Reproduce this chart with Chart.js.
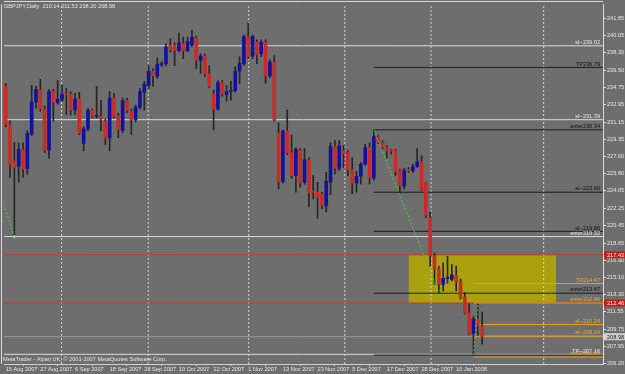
<!DOCTYPE html>
<html>
<head>
<meta charset="utf-8">
<script src="https://cdn.jsdelivr.net/npm/chart.js@4.4.1/dist/chart.umd.min.js"></script>
<style>
  html, body { margin: 0; padding: 0; background: #6e6e6e; }
  #wrap { width: 625px; height: 374px; position: relative; }
</style>
</head>
<body>
<div id="wrap"><canvas id="chart"></canvas></div>
<script>
// GBPJPY daily, 15 Aug 2007 .. 18 Jan 2008 (bar index 0..110)
const dateLabels = ["15 Aug 2007", "27 Aug 2007", "6 Sep 2007", "18 Sep 2007", "28 Sep 2007", "10 Oct 2007",
  "22 Oct 2007", "1 Nov 2007", "13 Nov 2007", "23 Nov 2007", "5 Dec 2007", "17 Dec 2007", "28 Dec 2007", "10 Jan 2008"];
const dateBars = [0, 8, 16, 24, 32, 40, 48, 56, 64, 72, 80, 88, 96, 104];
const priceTicks = [241.85, 240.05, 238.30, 236.50, 234.75, 232.95, 231.15, 229.35, 227.60, 225.80, 224.05,
  222.25, 220.45, 218.65, 216.90, 215.10, 213.30, 211.55, 209.75, 207.95, 206.20];
const separatorBars = [12.9, 32.9, 56.1, 78.3, 98.2, 124.2];

const opens = [234.80, 230.88, 227.15, 226.57, 228.27, 226.36, 229.93, 233.20, 234.45, 232.51,
  228.23, 234.29, 233.17, 233.43, 234.01, 234.01, 232.41, 233.53, 228.94, 230.44,
  232.35, 231.74, 231.74, 231.23, 229.52, 233.61, 231.74, 230.27, 233.33, 232.25,
  231.39, 232.69, 234.22, 234.90, 236.39, 235.88, 237.08, 237.18, 239.05, 239.12,
  238.53, 239.22, 238.53, 239.05, 239.83, 237.51, 237.96, 236.09, 234.01, 232.51,
  235.21, 234.01, 234.29, 234.39, 236.39, 237.18, 239.96, 237.96, 239.39, 238.20,
  239.32, 235.92, 237.35, 230.03, 225.00, 230.21, 227.99, 225.62, 228.23, 224.93,
  227.25, 223.91, 223.91, 223.68, 222.48, 224.93, 228.61, 226.36, 228.17, 227.99,
  226.23, 224.86, 225.55, 226.80, 228.50, 225.37, 229.63, 229.01, 228.50, 228.17,
  228.17, 226.13, 224.52, 226.13, 226.13, 226.53, 227.04, 224.86, 221.26, 217.38,
  216.02, 214.39, 215.00, 214.90, 215.34, 214.66, 213.10, 211.43, 209.29, 210.82,
  210.14];
const highs = [235.14, 231.26, 229.01, 229.01, 229.01, 230.24, 234.93, 234.83, 235.55, 232.79,
  234.52, 234.52, 235.44, 234.93, 234.63, 234.32, 234.12, 234.22, 230.65, 232.59,
  232.48, 234.83, 233.40, 231.46, 234.32, 234.12, 232.08, 233.61, 233.61, 232.48,
  232.89, 234.63, 235.34, 236.97, 236.67, 237.79, 237.38, 239.22, 239.73, 239.32,
  240.34, 239.93, 239.93, 240.65, 240.03, 238.20, 238.20, 236.97, 234.45, 235.44,
  235.44, 234.93, 235.34, 236.87, 237.89, 240.14, 241.36, 240.14, 239.63, 239.63,
  239.63, 237.59, 238.02, 231.06, 230.34, 232.41, 229.83, 228.50, 228.40, 228.40,
  227.48, 225.65, 224.93, 223.91, 225.95, 229.01, 229.22, 229.22, 228.71, 228.20,
  227.48, 226.06, 226.97, 228.84, 229.01, 230.34, 229.76, 229.22, 228.71, 228.33,
  228.30, 226.29, 226.36, 226.46, 226.80, 228.40, 227.66, 224.93, 221.87, 217.62,
  216.26, 216.60, 217.28, 216.43, 216.26, 214.93, 213.53, 212.38, 211.05, 212.35,
  211.53];
const lows = [230.65, 225.44, 219.32, 224.93, 225.44, 225.75, 229.73, 232.59, 232.28, 227.99,
  227.38, 231.26, 232.99, 233.30, 231.87, 231.87, 231.87, 229.83, 228.20, 230.24,
  231.57, 231.57, 230.24, 228.81, 228.20, 231.57, 229.52, 230.03, 232.08, 229.83,
  231.16, 232.48, 232.38, 234.63, 234.83, 235.65, 236.87, 236.97, 238.40, 236.97,
  238.40, 237.69, 238.40, 238.91, 236.67, 236.16, 235.85, 234.73, 230.34, 232.38,
  233.81, 233.30, 233.40, 234.22, 235.14, 236.97, 237.69, 237.69, 237.18, 237.89,
  235.14, 235.75, 231.26, 224.25, 224.83, 227.79, 225.34, 223.91, 224.42, 224.73,
  222.38, 223.20, 221.19, 222.18, 221.87, 223.64, 225.78, 226.16, 226.46, 225.62,
  223.74, 223.91, 224.76, 226.67, 224.76, 225.14, 228.91, 228.33, 227.48, 227.82,
  225.62, 223.74, 224.25, 225.95, 225.95, 226.46, 224.09, 221.26, 216.26, 214.39,
  213.53, 213.71, 214.52, 214.73, 213.71, 212.86, 211.33, 209.22, 207.08, 209.12,
  208.20];
const closes = [230.88, 226.80, 226.46, 228.33, 226.29, 229.96, 233.20, 234.52, 232.51, 228.23,
  234.29, 233.17, 233.50, 234.01, 233.98, 232.41, 233.53, 229.96, 230.44, 232.35,
  231.74, 231.77, 231.49, 229.52, 233.61, 231.74, 230.37, 233.33, 232.35, 231.39,
  232.69, 234.29, 235.03, 236.39, 235.92, 237.11, 237.18, 238.88, 238.61, 238.53,
  239.32, 238.53, 239.45, 239.90, 237.51, 237.96, 236.09, 234.86, 232.51, 235.21,
  234.05, 234.29, 234.31, 236.39, 237.18, 239.96, 237.92, 239.96, 238.13, 239.39,
  235.92, 237.35, 231.39, 225.00, 230.21, 227.99, 225.62, 228.33, 224.86, 227.25,
  223.84, 223.88, 223.33, 222.55, 225.00, 228.61, 226.36, 228.68, 227.92, 226.23,
  224.86, 225.55, 226.80, 228.50, 225.37, 229.63, 229.09, 228.53, 228.17, 228.15,
  226.02, 224.60, 226.13, 226.11, 226.53, 227.04, 224.19, 221.53, 217.38, 216.02,
  214.39, 215.00, 215.02, 215.34, 214.66, 213.02, 211.43, 209.29, 210.82, 210.14,
  208.98];

// horizontal objects
const fullPrices = [239.02, 231.39, 219.32, 207.16];
const fullLabels = ["sl--239.02", "sl--231.39", "enter219.32", "TP--207.16"];
const blackPrices = [236.79, 230.34, 223.90, 219.86, 213.47, 207.08];
const blackLabels = ["TP236.79", "enter230.34", "sl--223.90", "sl--219.86", "enter213.47", ""];
const orangePrices = [214.47, 212.46, 210.24, 209.04, 206.88];
const orangeLabels = ["TP214.47", "enter212.46", "sl--210.24", "sl--209.04", "enter206.88"];
const redPrices = [217.43, 212.46];
const bidPrice = 208.98;
const blackStart = 85;
const orangeStart = 108;
const boxBars = [93, 127.1];
const boxPrices = [217.43, 212.46];
const trendBars = [[85, 100], [108, 109], [-0.4, 2]];
const trendPrices = [[230.34, 213.53], [207.08, 212.35], [222.62, 219.32]];

const X_MIN = -0.39, X_MAX = 137.9;
const Y_MIN = 206.16, Y_MAX = 243.30;
const FONT = { family: "Liberation Sans, Arial, sans-serif", size: 5.6 };
const TEXT = "#e6e6e6";

function hline(price, from, to, color, order, extra) {
  return Object.assign({
    type: "line",
    data: [{ x: from, y: price }, { x: to, y: price }],
    borderColor: color,
    borderWidth: 1,
    pointRadius: 0,
    order: order
  }, extra || {});
}

const datasets = [];

// yellow box (background)
datasets.push({
  type: "line",
  data: [{ x: boxBars[0], y: boxPrices[0] }, { x: boxBars[1], y: boxPrices[0] }],
  borderWidth: 0,
  pointRadius: 0,
  fill: { value: boxPrices[1] },
  backgroundColor: "#a9a20e",
  order: 100
});

separatorBars.forEach((b) => {
  datasets.push({
    type: "line",
    data: [{ x: b, y: Y_MIN }, { x: b, y: Y_MAX }],
    borderColor: "#d4d4d4",
    borderWidth: 1,
    borderDash: [2, 2],
    pointRadius: 0,
    order: 90
  });
});

fullPrices.forEach((p) => datasets.push(hline(p, X_MIN, X_MAX, "#dcdcdc", 80)));
redPrices.forEach((p) => datasets.push(hline(p, X_MIN, X_MAX, "#c0392b", 79)));
datasets.push(hline(bidPrice, X_MIN, X_MAX, "#9a9a9a", 78));
blackPrices.forEach((p) => datasets.push(hline(p, blackStart, X_MAX, "#1c1c1c", 77)));
orangePrices.forEach((p) => datasets.push(hline(p, orangeStart, X_MAX, "#e8a020", 76)));

// candles: wicks then bodies
datasets.push({
  type: "bar",
  data: lows.map((l, i) => ({ x: i, y: [l, highs[i]] })),
  backgroundColor: "#262626",
  barThickness: 1,
  grouped: false,
  order: 20
});
datasets.push({
  type: "bar",
  data: opens.map((o, i) => ({ x: i, y: [o, closes[i]] })),
  backgroundColor: opens.map((o, i) => (closes[i] >= o ? "#12129c" : "#cc2a26")),
  borderColor: opens.map((o, i) => (closes[i] >= o ? "#0a0a55" : "#5a1410")),
  borderWidth: 0,
  barThickness: 3,
  minBarLength: 1,
  grouped: false,
  order: 19
});

trendBars.forEach((bars, k) => {
  datasets.push({
    type: "line",
    data: bars.map((b, j) => ({ x: b, y: trendPrices[k][j] })),
    borderColor: "#3fd23f",
    borderWidth: 1,
    borderDash: [2, 2],
    pointRadius: k === 2 ? [0, 1.5] : 0,
    pointStyle: "rect",
    pointBackgroundColor: "#9dff9d",
    pointBorderWidth: 0,
    order: 5
  });
});

const overlay = {
  id: "overlay",
  beforeDraw(chart) {
    const c = chart.ctx;
    c.save();
    c.fillStyle = "#6e6e6e";
    c.fillRect(0, 0, chart.width, chart.height);
    c.restore();
  },
  afterDraw(chart) {
    const { ctx, chartArea: a, scales: { y } } = chart;
    ctx.save();
    ctx.font = FONT.size + "px " + FONT.family;

    // frame
    ctx.strokeStyle = "#dcdcdc";
    ctx.lineWidth = 1;
    ctx.beginPath();
    ctx.moveTo(a.left, 1.5);
    ctx.lineTo(a.right, 1.5);
    ctx.moveTo(1.5, a.top);
    ctx.lineTo(1.5, a.bottom);
    ctx.stroke();

    // line labels
    ctx.textAlign = "right";
    ctx.textBaseline = "bottom";
    const label = (txt, price, color) => {
      if (!txt) return;
      ctx.fillStyle = color;
      ctx.fillText(txt, a.right - 3, y.getPixelForValue(price) - 0.5);
    };
    fullPrices.forEach((p, i) => label(fullLabels[i], p, TEXT));
    blackPrices.forEach((p, i) => label(blackLabels[i], p, "#111111"));
    orangePrices.forEach((p, i) => label(orangeLabels[i], p, "#f0a830"));

    // price boxes on the axis
    ctx.textAlign = "left";
    ctx.textBaseline = "middle";
    const box = (price, bg, fg) => {
      const py = y.getPixelForValue(price);
      ctx.fillStyle = bg;
      ctx.fillRect(a.right + 1, py - 3.5, chart.width - a.right - 1, 7);
      ctx.fillStyle = fg;
      ctx.fillText(price.toFixed(2), a.right + 4, py + 0.5);
    };
    redPrices.forEach((p) => box(p, "#c0201c", "#f0f0f0"));
    box(bidPrice, "#d0d0d0", "#202020");

    // header and footer
    ctx.fillStyle = TEXT;
    ctx.fillText("GBPJPY,Daily  210.14 211.53 208.20 208.98", 4, 6.5);
    ctx.fillText("MetaTrader - Alpari UK, \u00a9 2001-2007 MetaQuotes Software Corp.", 3, 359);
    ctx.restore();
  }
};

new Chart(document.getElementById("chart"), {
  data: { datasets },
  options: {
    responsive: true,
    maintainAspectRatio: false,
    animation: false,
    layout: { padding: 0 },
    plugins: { legend: { display: false }, tooltip: { enabled: false } },
    scales: {
      x: {
        type: "linear",
        min: X_MIN,
        max: X_MAX,
        offset: false,
        afterBuildTicks: (scale) => { scale.ticks = dateBars.map((v) => ({ value: v })); },
        afterFit: (scale) => { scale.height = 10; },
        ticks: {
          autoSkip: false,
          maxRotation: 0,
          align: "start",
          padding: 0,
          color: TEXT,
          font: FONT,
          callback: (v) => dateLabels[dateBars.indexOf(v)] || ""
        },
        grid: { drawOnChartArea: false, tickLength: 2, color: "#cfcfcf" },
        border: { color: "#cfcfcf" }
      },
      y: {
        type: "linear",
        position: "right",
        min: Y_MIN,
        max: Y_MAX,
        afterBuildTicks: (scale) => { scale.ticks = priceTicks.map((v) => ({ value: v })); },
        afterFit: (scale) => { scale.width = 22; },
        ticks: {
          autoSkip: false,
          padding: 1,
          color: TEXT,
          font: FONT,
          callback: (v) => Number(v).toFixed(2)
        },
        grid: { drawOnChartArea: false, tickLength: 3, color: "#dcdcdc" },
        border: { color: "#dcdcdc" }
      }
    }
  },
  plugins: [overlay]
});
</script>
</body>
</html>
